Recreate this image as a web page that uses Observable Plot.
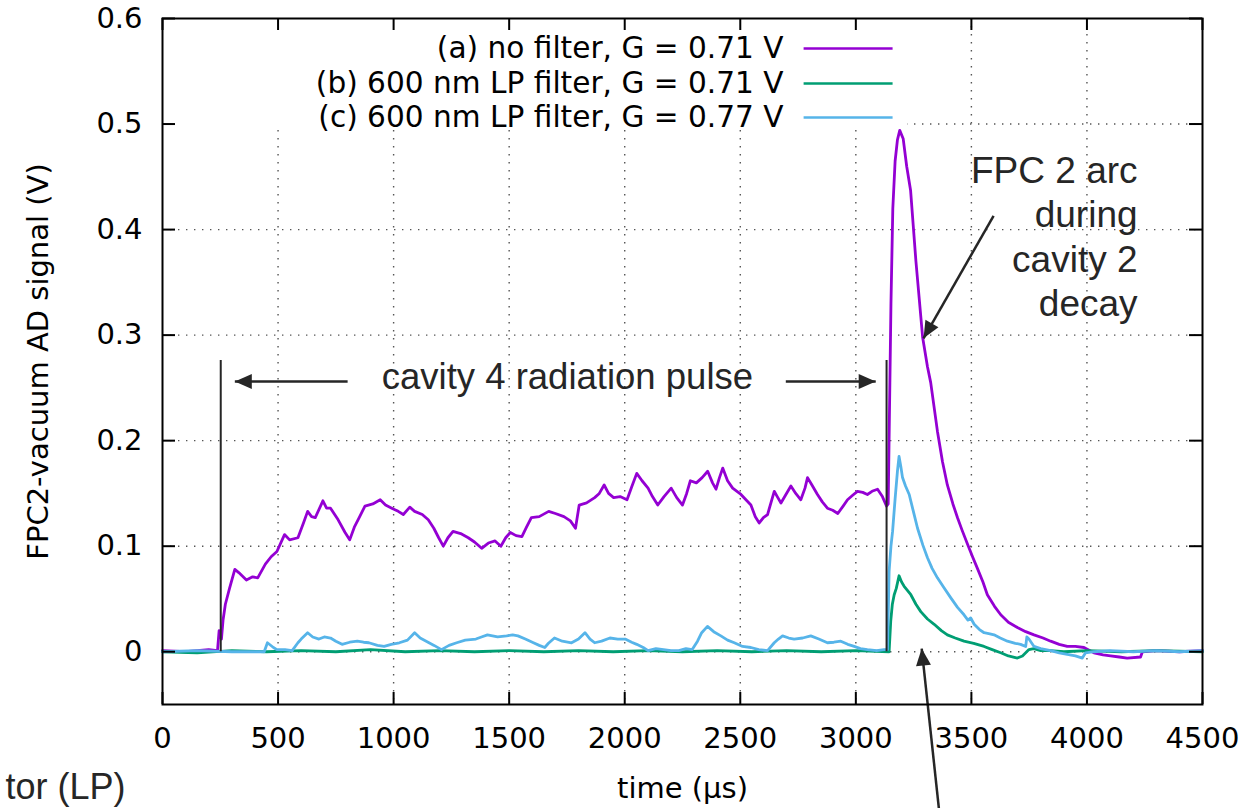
<!DOCTYPE html>
<html>
<head>
<meta charset="utf-8">
<script src="https://cdn.jsdelivr.net/npm/d3@7"></script>
<script src="https://cdn.jsdelivr.net/npm/@observablehq/plot@0.6"></script>
<style>
  html, body { margin: 0; padding: 0; background: #fff; }
  #chart { width: 1258px; height: 808px; overflow: hidden; }
</style>
</head>
<body>
<div id="chart"></div>
<script>
// ---------------- data ----------------
const xTicks = [0, 500, 1000, 1500, 2000, 2500, 3000, 3500, 4000, 4500];
const yTicks = [0, 0.1, 0.2, 0.3, 0.4, 0.5, 0.6];
const yTickLabels = ["0", "0.1", "0.2", "0.3", "0.4", "0.5", "0.6"];

const seriesNames = [
  "(a) no filter, G = 0.71 V",
  "(b) 600 nm LP filter, G = 0.71 V",
  "(c) 600 nm LP filter, G = 0.77 V"
];
const seriesColors = ["#9400d3", "#009e73", "#56b4e9"];

// (a) no filter
const tA = [0,100,200,238,245,255,262,272,290,313,330,363,390,412,445,470,495,528,550,586,610,628,645,661,694,710,727,760,790,810,830,851,876,910,942,965,992,1020,1042,1070,1091,1124,1150,1174,1195,1215,1235,1257,1290,1323,1350,1381,1410,1439,1464,1485,1505,1530,1555,1575,1596,1630,1671,1700,1737,1765,1787,1803,1835,1870,1890,1911,1930,1952,1980,2010,2030,2052,2075,2101,2120,2143,2170,2201,2225,2250,2268,2284,2310,2335,2359,2380,2395,2410,2424,2445,2467,2503,2546,2565,2582,2600,2618,2647,2660,2676,2700,2719,2740,2762,2780,2791,2810,2834,2855,2877,2900,2922,2945,2964,2985,3007,3030,3050,3070,3094,3115,3133,3140,3147,3152,3160,3170,3180,3190,3205,3220,3237,3260,3289,3310,3324,3353,3375,3396,3420,3440,3460,3483,3505,3526,3550,3569,3600,3627,3660,3699,3735,3771,3810,3843,3880,3915,3950,3987,4030,4070,4102,4140,4174,4232,4240,4300,4400,4500];
const vA = [0.001,0.000,0.002,0.001,0.020,0.012,0.030,0.045,0.060,0.078,0.075,0.068,0.071,0.070,0.083,0.090,0.095,0.111,0.106,0.108,0.122,0.133,0.128,0.127,0.143,0.136,0.136,0.125,0.113,0.106,0.118,0.127,0.138,0.140,0.144,0.139,0.136,0.133,0.130,0.137,0.133,0.130,0.125,0.117,0.108,0.100,0.108,0.114,0.112,0.108,0.104,0.098,0.103,0.105,0.100,0.108,0.113,0.110,0.109,0.118,0.127,0.128,0.133,0.131,0.128,0.124,0.117,0.139,0.141,0.146,0.150,0.158,0.150,0.146,0.147,0.144,0.156,0.169,0.162,0.155,0.147,0.139,0.147,0.155,0.146,0.139,0.150,0.162,0.160,0.165,0.171,0.160,0.154,0.165,0.174,0.162,0.155,0.149,0.139,0.128,0.122,0.127,0.130,0.152,0.147,0.141,0.150,0.157,0.150,0.144,0.155,0.165,0.158,0.149,0.142,0.136,0.134,0.131,0.138,0.144,0.148,0.152,0.151,0.149,0.152,0.154,0.147,0.138,0.140,0.250,0.330,0.420,0.465,0.485,0.494,0.486,0.460,0.437,0.370,0.298,0.270,0.255,0.209,0.180,0.158,0.140,0.127,0.115,0.102,0.090,0.079,0.066,0.054,0.043,0.035,0.028,0.023,0.019,0.016,0.013,0.010,0.007,0.005,0.005,0.004,-0.001,-0.003,-0.004,-0.005,-0.006,-0.005,0.000,0.001,0.000,0.001];

// (b) 600 nm LP filter, G = 0.71 V
const tB = [0,150,300,450,600,750,900,1050,1200,1350,1500,1650,1800,1950,2100,2250,2400,2550,2700,2850,3000,3144,3151,3158,3166,3175,3187,3198,3209,3238,3260,3281,3310,3339,3370,3396,3430,3468,3510,3555,3590,3627,3660,3699,3721,3749,3770,3800,3843,3900,4000,4150,4300,4500];
const vB = [0.000,-0.001,0.001,0.000,0.001,0.000,0.002,0.000,0.001,0.000,0.001,0.000,0.001,0.000,0.001,0.000,0.001,0.000,0.001,0.000,0.001,0.000,0.029,0.045,0.054,0.060,0.072,0.066,0.062,0.054,0.045,0.038,0.031,0.026,0.020,0.016,0.013,0.010,0.008,0.005,0.002,-0.001,-0.004,-0.006,-0.004,0.002,0.003,0.001,0.001,0.000,0.001,0.000,0.001,0.000];

// (c) 600 nm LP filter, G = 0.77 V
const tC = [0,150,300,440,454,480,495,530,561,586,600,628,650,677,700,727,750,777,810,843,870,893,930,959,990,1025,1060,1091,1115,1141,1175,1207,1240,1273,1310,1356,1380,1406,1450,1489,1515,1538,1570,1605,1630,1654,1670,1696,1730,1770,1800,1828,1850,1870,1900,1936,1970,2002,2030,2052,2080,2101,2135,2168,2200,2234,2265,2292,2315,2333,2358,2385,2416,2445,2474,2510,2546,2580,2618,2647,2665,2683,2710,2733,2770,2805,2840,2877,2905,2935,2965,2993,3020,3050,3090,3122,3137,3144,3152,3159,3170,3180,3187,3195,3202,3215,3231,3250,3267,3290,3310,3330,3353,3380,3411,3440,3468,3485,3497,3512,3535,3555,3580,3598,3625,3656,3690,3713,3735,3740,3749,3771,3800,3843,3880,3915,3950,3980,3994,4030,4100,4200,4300,4400,4500];
const vC = [0.000,0.001,0.000,0.000,0.0085,0.004,0.002,0.002,0.001,0.0085,0.012,0.018,0.014,0.012,0.014,0.013,0.010,0.007,0.009,0.010,0.009,0.0085,0.006,0.005,0.007,0.0085,0.011,0.018,0.013,0.010,0.006,0.002,0.006,0.0085,0.011,0.012,0.014,0.016,0.014,0.015,0.016,0.015,0.012,0.0085,0.006,0.004,0.008,0.013,0.010,0.0085,0.012,0.018,0.012,0.0085,0.010,0.013,0.012,0.012,0.009,0.007,0.004,0.001,0.003,0.002,0.001,0.001,0.003,0.002,0.010,0.018,0.024,0.019,0.015,0.011,0.0085,0.005,0.004,0.002,0.001,0.0085,0.012,0.015,0.013,0.012,0.013,0.015,0.012,0.0085,0.009,0.010,0.007,0.005,0.003,0.002,0.001,0.002,0.002,0.076,0.100,0.114,0.145,0.171,0.185,0.175,0.165,0.157,0.149,0.132,0.117,0.101,0.089,0.079,0.070,0.061,0.051,0.042,0.035,0.030,0.032,0.026,0.021,0.018,0.017,0.016,0.013,0.010,0.008,0.007,0.005,0.014,0.012,0.005,0.003,0.001,-0.001,-0.0025,-0.004,-0.006,-0.001,0.000,0.001,0.000,0.001,0.000,0.001];

// annotation texts
const pulseText = "cavity 4 radiation pulse";
const arcText = "FPC 2 arc\nduring\ncavity 2\ndecay";
const cutText = "tor (LP)";
const xLabel = "time (µs)";
const yLabel = "FPC2-vacuum AD signal (V)";

// ---------------- build ----------------
const toRows = (ts, vs) => ts.map((t, i) => ({t, v: vs[i]}));
const series = [toRows(tA, vA), toRows(tB, vB), toRows(tC, vC)];

// annotation layout (data coordinates)
const markers = [252, 3133];
const arrows = [
  {x1: 801, y1: 0.256, x2: 313, y2: 0.256, angle: 180},
  {x1: 2697, y1: 0.256, x2: 3086, y2: 0.256, angle: 0},
  {x1: 3596, y1: 0.413, x2: 3293, y2: 0.297, angle: 119.6},
  {x1: 3365, y1: -0.16, x2: 3285, y2: 0.003, angle: -96}
];
const legendRows = seriesNames.map((name, i) => ({name, color: seriesColors[i], y: [0.5716, 0.5384, 0.5062][i]}));

const headSymbol = {
  draw(ctx) {
    const L = 17, W = 7.5;
    ctx.moveTo(0, 0);
    ctx.lineTo(-L, -W);
    ctx.lineTo(-L, W);
    ctx.closePath();
  }
};

const ink = "#262626";
const annFont = "Liberation Sans, Arial, sans-serif";
const fs = 29;

const chart = Plot.plot({
  width: 1258,
  height: 808,
  marginLeft: 162,
  marginRight: 56,
  marginTop: 18,
  marginBottom: 104,
  style: {fontFamily: "DejaVu Sans", background: "#fff", overflow: "hidden"},
  x: {domain: [0, 4500], axis: null},
  y: {domain: [-0.05, 0.6], axis: null},
  marks: [
    // grid
    Plot.ruleX(xTicks.slice(1, -1), {stroke: "#555", strokeWidth: 1.4, strokeDasharray: "1.4,6.6"}),
    Plot.ruleY(yTicks.slice(0, -1), {stroke: "#555", strokeWidth: 1.4, strokeDasharray: "1.4,6.6"}),
    // opaque key box
    Plot.rect([0], {x1: 69, x2: 3224, y1: 0.4967, y2: 0.6, fill: "#fff"}),
    // data
    ...series.map((rows, i) => Plot.line(rows, {x: "t", y: "v", stroke: seriesColors[i], strokeWidth: 2.8})),
    // key
    Plot.text(legendRows, {x: 2687, y: "y", text: "name", textAnchor: "end", fontSize: 29.6, fill: "#000"}),
    Plot.link(legendRows, {x1: 2774, x2: 3159, y1: "y", y2: "y", stroke: "color", strokeWidth: 2.4}),
    // annotations
    Plot.ruleX(markers, {y1: 0, y2: 0.276, stroke: ink, strokeWidth: 2}),
    Plot.link(arrows, {x1: "x1", y1: "y1", x2: "x2", y2: "y2", stroke: ink, strokeWidth: 2.5, clip: false}),
    Plot.dot(arrows, {x: "x2", y: "y2", symbol: headSymbol, r: 8, rotate: "angle", fill: ink, stroke: null}),
    Plot.text([pulseText], {x: 1752, y: 0.26, text: d => d, fontSize: 36.5, fontFamily: annFont, fill: ink, lineAnchor: "middle"}),
    Plot.text([arcText], {x: 4219, y: 0.474, text: d => d, fontSize: 37, fontFamily: annFont, fill: ink, textAnchor: "end", lineAnchor: "top", lineHeight: 1.2}),
    Plot.text([cutText], {x: -160, y: -0.1284, text: d => d, fontSize: 36, fontFamily: annFont, fill: ink, textAnchor: "end", lineAnchor: "middle"}),
    // tick marks (inward, mirrored)
    Plot.ruleX(xTicks, {insetTop: 674, stroke: "#000", strokeWidth: 2}),
    Plot.ruleX(xTicks, {insetBottom: 674, stroke: "#000", strokeWidth: 2}),
    Plot.ruleY(yTicks, {insetRight: 1027, stroke: "#000", strokeWidth: 2}),
    Plot.ruleY(yTicks, {insetLeft: 1027, stroke: "#000", strokeWidth: 2}),
    Plot.frame({stroke: "#000", strokeWidth: 2}),
    // tick labels
    Plot.text(xTicks, {x: d => d, text: d => String(d), frameAnchor: "bottom", dy: 34, textAnchor: "middle", lineAnchor: "middle", fontSize: fs, fill: "#000"}),
    Plot.text(yTicks, {y: d => d, text: (d, i) => yTickLabels[i], frameAnchor: "left", dx: -20, textAnchor: "end", lineAnchor: "middle", fontSize: fs, fill: "#000"}),
    // axis titles
    Plot.text([xLabel], {text: d => d, frameAnchor: "bottom", dy: 84, textAnchor: "middle", lineAnchor: "middle", fontSize: fs, fill: "#000"}),
    Plot.text([yLabel], {text: d => d, frameAnchor: "left", dx: -124, rotate: -90, textAnchor: "middle", lineAnchor: "middle", fontSize: fs, fill: "#000"})
  ]
});
document.getElementById("chart").appendChild(chart);
</script>
</body>
</html>
